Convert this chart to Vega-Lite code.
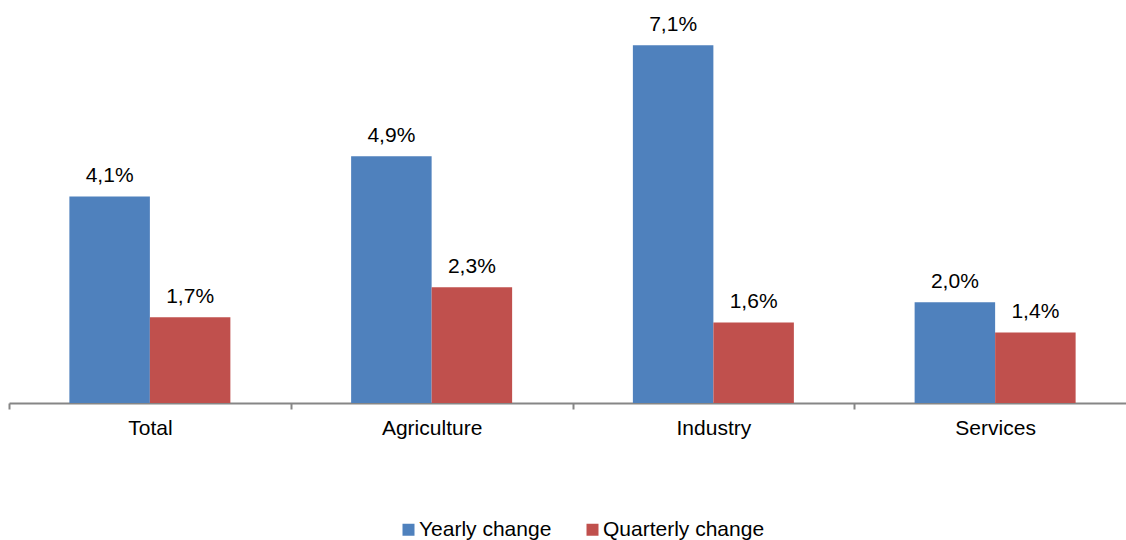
{
  "$schema": "https://vega.github.io/schema/vega-lite/v6.json",
  "autosize": {"type": "none"},
  "width": 1117,
  "height": 403,
  "padding": {"left": 9, "top": 0, "right": 0, "bottom": 137},
  "background": "white",
  "config": {
    "view": {"stroke": null},
    "font": "Liberation Sans",
    "locale": {"number": {"decimal": ",", "thousands": ".", "grouping": [3], "currency": ["", " €"]}}
  },
  "data": {
    "values": [
      {"category": "Total", "series": "Yearly change", "value": 0.041},
      {"category": "Total", "series": "Quarterly change", "value": 0.017},
      {"category": "Agriculture", "series": "Yearly change", "value": 0.049},
      {"category": "Agriculture", "series": "Quarterly change", "value": 0.023},
      {"category": "Industry", "series": "Yearly change", "value": 0.071},
      {"category": "Industry", "series": "Quarterly change", "value": 0.016},
      {"category": "Services", "series": "Yearly change", "value": 0.020},
      {"category": "Services", "series": "Quarterly change", "value": 0.014}
    ]
  },
  "encoding": {
    "x": {
      "field": "category",
      "type": "nominal",
      "sort": null,
      "scale": {"range": [0, 1127], "paddingInner": 0, "paddingOuter": 0},
      "axis": {
        "title": null,
        "labelAngle": 0,
        "labelFontSize": 21,
        "labelColor": "#000000",
        "labelPadding": 8,
        "domainColor": "#868686",
        "domainWidth": 2,
        "tickColor": "#868686",
        "tickWidth": 2,
        "tickSize": 6,
        "tickBand": "extent"
      }
    },
    "xOffset": {
      "field": "series",
      "type": "nominal",
      "sort": ["Yearly change", "Quarterly change"],
      "scale": {"paddingInner": 0, "paddingOuter": 0.75}
    },
    "y": {
      "field": "value",
      "type": "quantitative",
      "scale": {"domain": [0, 0.08], "nice": false, "zero": true},
      "axis": null
    }
  },
  "layer": [
    {
      "mark": {"type": "bar"},
      "encoding": {
        "color": {
          "field": "series",
          "type": "nominal",
          "scale": {"domain": ["Yearly change", "Quarterly change"], "range": ["#4F81BD", "#C0504D"]},
          "legend": {
            "title": null,
            "orient": "none",
            "direction": "horizontal",
            "legendX": 389,
            "legendY": 519,
            "symbolType": "square",
            "symbolSize": 144,
            "symbolStrokeWidth": 0,
            "labelFontSize": 21,
            "labelColor": "#000000",
            "labelOffset": 0,
            "labelLimit": 400,
            "columnPadding": 30
          }
        }
      }
    },
    {
      "mark": {"type": "text", "baseline": "alphabetic", "dy": -14, "fontSize": 21, "color": "#000000"},
      "encoding": {
        "text": {"field": "value", "type": "quantitative", "format": ".1%"}
      }
    }
  ]
}
